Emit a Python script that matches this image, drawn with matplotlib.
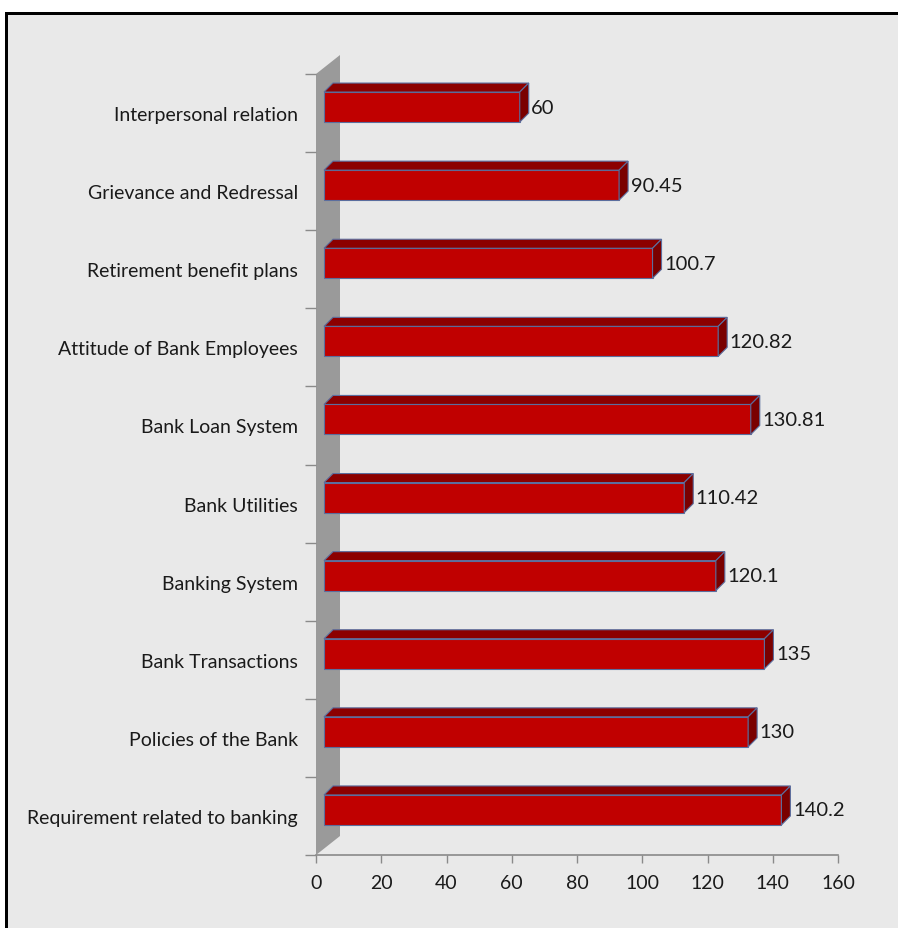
import numpy as np
import matplotlib
matplotlib.use("Agg")
import matplotlib.pyplot as plt
from matplotlib.patches import Polygon, Rectangle

# chart data (bottom to top)
categories = ["Requirement related to banking", "Policies of the Bank", "Bank Transactions",
              "Banking System", "Bank Utilities", "Bank Loan System",
              "Attitude of Bank Employees", "Retirement benefit plans",
              "Grievance and Redressal", "Interpersonal relation"]
values = [140.2, 130, 135, 120.1, 110.42, 130.81, 120.82, 100.7, 90.45, 60]
value_labels = ["140.2", "130", "135", "120.1", "110.42", "130.81", "120.82", "100.7", "90.45", "60"]
x_ticks = [0, 20, 40, 60, 80, 100, 120, 140, 160]

W, H = 898, 929
plt.rcParams['font.family'] = ['Lato', 'DejaVu Sans']

fig = plt.figure(figsize=(W / 100, H / 100), dpi=100)
fig.patch.set_facecolor("#e9e9e9")
fig.patch.set_edgecolor("none")

# white margin + black frame (top and left only)
fig.patches.append(Rectangle((0, 0), 5 / W, 1, transform=fig.transFigure,
                             facecolor="white", edgecolor="none", zorder=-9))
fig.patches.append(Rectangle((0, 1 - 13 / H), 1, 13 / H, transform=fig.transFigure,
                             facecolor="white", edgecolor="none", zorder=-9))
fig.patches.append(Rectangle((5 / W, 0), 3 / W, 1 - 13 / H, transform=fig.transFigure,
                             facecolor="black", edgecolor="none", zorder=-8))
fig.patches.append(Rectangle((5 / W, 1 - 16 / H), 1 - 5 / W, 3 / H, transform=fig.transFigure,
                             facecolor="black", edgecolor="none", zorder=-8))

ax = fig.add_axes([316 / W, 73 / H, 522 / W, 781 / H])
ax.set_facecolor("none")
ax.set_xlim(0, 160)
ax.set_ylim(-0.5, len(categories) - 0.5)

px_x = 522 / 160   # pixels per x unit
px_y = 781 / len(categories)  # pixels per category

# back wall (gray 3D side)
wdx, wdy = 24 / px_x, 19 / px_y
wall = Polygon([(0, -0.5), (0, len(categories) - 0.5),
                (wdx, len(categories) - 0.5 + wdy), (wdx, -0.5 + wdy)],
               closed=True, facecolor="#9a9a9a", edgecolor="none", clip_on=False, zorder=1)
ax.add_patch(wall)

# bars with 3D top and side faces
h = 30 / px_y
xs, ys = 8 / px_x, 6 / px_y
dx, dy = 9 / px_x, 9 / px_y
y = np.arange(len(categories))
edge = "#5b6e9e"
ax.barh(y + ys, values, height=h, left=xs, color="#c00000", edgecolor=edge,
        linewidth=0.8, zorder=3, clip_on=False)
for yi, v, lab in zip(y, values, value_labels):
    yc = yi + ys
    x1 = xs + v
    top = Polygon([(xs, yc + h / 2), (x1, yc + h / 2), (x1 + dx, yc + h / 2 + dy),
                   (xs + dx, yc + h / 2 + dy)], closed=True, facecolor="#8c0000",
                  edgecolor=edge, linewidth=0.8, zorder=3, clip_on=False)
    side = Polygon([(x1, yc - h / 2), (x1, yc + h / 2), (x1 + dx, yc + h / 2 + dy),
                    (x1 + dx, yc - h / 2 + dy)], closed=True, facecolor="#7a0000",
                   edgecolor=edge, linewidth=0.8, zorder=3, clip_on=False)
    ax.add_patch(top)
    ax.add_patch(side)
    ax.text(x1 + dx + 0.8, yc, lab, va="center", ha="left", fontsize=14.5, color="#1a1a1a",
            zorder=4)

# axes styling
for s in ["top", "right", "left"]:
    ax.spines[s].set_visible(False)
ax.spines["bottom"].set_color("#8a8a8a")
ax.spines["bottom"].set_linewidth(1.2)

ax.set_xticks(x_ticks)
ax.set_xticklabels([str(t) for t in x_ticks], fontsize=14, color="#1a1a1a")
ax.tick_params(axis="x", direction="out", length=6, width=1, color="#8a8a8a", pad=8)

ax.set_yticks(y)
ax.set_yticklabels(categories, fontsize=14, color="#1a1a1a")
ax.tick_params(axis="y", which="major", length=0, pad=13)
ax.set_yticks(np.arange(-0.5, len(categories), 1), minor=True)
ax.tick_params(axis="y", which="minor", direction="out", length=8, width=1, color="#8a8a8a")

fig.savefig("out.png", dpi=100, facecolor=fig.get_facecolor(), edgecolor="none")
